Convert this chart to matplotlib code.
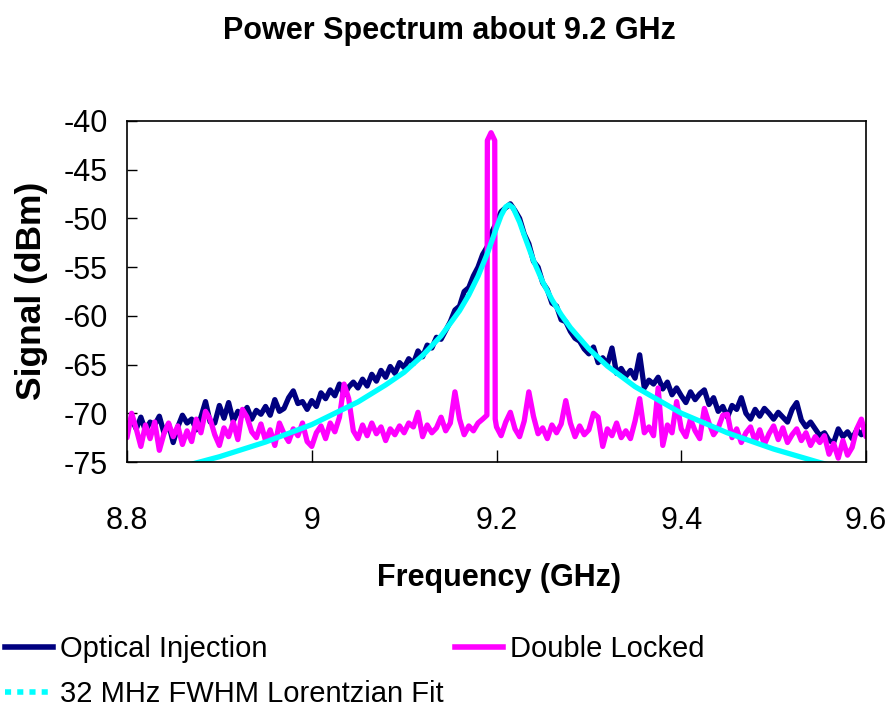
import numpy as np
import matplotlib.pyplot as plt
from matplotlib.lines import Line2D
from matplotlib.ticker import FuncFormatter

plt.rcParams['font.family'] = ['Liberation Sans', 'DejaVu Sans']
plt.rcParams['axes.unicode_minus'] = False

# analyzer sweep: 8.8 -> 9.6 GHz, one point every 5 MHz
freq = np.linspace(8.8, 9.6, 161)

# Optical Injection trace (dBm), one value per sweep point
inj_dbm = [
    -71.3, -70.6, -71.6, -70.4, -71.8, -70.9, -71.2, -70.3, -72.0, -71.1,
    -73.0, -71.4, -70.2, -71.0, -70.6, -71.7, -70.4, -68.8, -70.9, -71.0,
    -69.2, -70.5, -68.9, -70.8, -69.8, -70.2, -69.4, -70.6, -69.7, -70.1,
    -69.3, -70.2, -68.6, -69.8, -69.5, -68.4, -67.7, -69.0, -68.8, -69.6,
    -68.7, -69.3, -67.9, -68.5, -67.6, -68.2, -67.0, -68.1, -67.3, -66.8,
    -67.4, -66.5, -67.2, -66.0, -66.7, -65.6, -66.3, -65.2, -65.9, -64.8,
    -65.3, -64.4, -64.9, -63.6, -64.2, -63.0, -63.3, -62.2, -62.4, -61.5,
    -60.6, -59.4, -59.0, -57.5, -57.1, -55.9, -55.0, -53.7, -52.9, -51.4,
    -50.4, -49.3, -48.9, -48.5, -49.2, -50.0, -51.6, -52.6, -54.4, -55.0,
    -56.6, -57.3, -58.7, -59.0, -60.4, -60.6, -61.6, -62.3, -62.6, -63.4,
    -63.9, -63.2, -64.8, -64.3, -65.0, -63.3, -65.9, -65.4, -66.2, -65.6,
    -66.4, -64.0, -67.4, -66.6, -67.0, -66.3, -67.5, -66.8, -68.1, -67.4,
    -68.2, -68.9, -67.8, -68.6, -68.0, -67.6, -69.1, -68.4, -69.8, -69.3,
    -70.4, -69.2, -69.6, -68.4, -70.0, -70.6, -69.6, -70.3, -69.5, -70.0,
    -70.6, -69.9, -70.4, -70.9, -69.6, -68.9, -70.7, -71.4, -70.9, -71.6,
    -72.3, -72.0, -72.8, -73.0, -71.6, -72.4, -71.9, -72.6, -71.7, -72.2,
    -71.4,
]

# Double Locked trace: 8.800-9.185 GHz, the locked line, then 9.200-9.600 GHz
lock_left_dbm = [
    -72.5, -70.0, -71.6, -73.4, -71.2, -72.6, -70.9, -73.8, -72.1, -71.0,
    -72.4, -71.3, -73.2, -71.8, -72.9, -70.6, -72.0, -69.8, -70.6, -72.2,
    -73.3, -71.5, -72.4, -70.9, -72.7, -69.6, -70.4, -71.9, -72.5, -71.1,
    -72.8, -71.7, -73.3, -71.0, -72.1, -72.9, -71.6, -72.3, -71.0, -72.9,
    -73.4, -72.0, -71.3, -72.6, -71.0, -71.9, -70.4, -67.0, -68.5, -71.8,
    -72.6, -71.2, -72.3, -71.0, -72.1, -71.4, -72.8, -71.6, -72.2, -71.3,
    -72.0, -71.0, -71.4, -69.9, -72.4, -71.2, -72.0, -71.5, -70.4, -71.8,
    -71.0, -67.8, -70.6, -72.2, -71.3, -71.8, -71.0, -70.6,
]
line_freq = [9.1896, 9.1901, 9.1941, 9.1981, 9.1986]
line_dbm = [-70.2, -42.0, -41.2, -42.0, -70.6]
lock_right_dbm = [
    -71.4, -72.3, -70.9, -69.9, -71.6, -72.4, -70.8, -67.8, -70.3, -72.1,
    -71.5, -72.6, -71.2, -72.0, -71.1, -68.7, -71.0, -72.4, -71.3, -72.2,
    -71.7, -70.0, -70.4, -73.4, -71.6, -72.3, -71.0, -72.5, -71.8, -72.6,
    -70.8, -68.5, -72.0, -71.4, -72.3, -67.4, -73.3, -71.2, -72.0, -68.8,
    -71.6, -72.4, -70.6, -71.8, -72.6, -69.5, -71.0, -72.2, -71.5, -70.2,
    -70.1, -72.5, -71.6, -73.0, -72.0, -71.4, -72.9, -71.7, -73.2, -72.1,
    -71.3, -72.7, -71.5, -73.0, -72.2, -71.6, -72.8, -72.0, -73.3, -72.4,
    -73.0, -72.3, -74.2, -73.1, -74.6, -72.8, -74.3, -73.5, -71.6, -70.6,
    -72.4,
]

# 32 MHz FWHM Lorentzian fit
fit_freq = [8.80, 8.85, 8.90, 8.95, 9.00, 9.05, 9.08, 9.10, 9.12, 9.14,
            9.16, 9.17, 9.18, 9.19, 9.20, 9.205, 9.21, 9.2136, 9.218, 9.225,
            9.23, 9.24, 9.25, 9.26, 9.27, 9.28, 9.30, 9.32, 9.35, 9.40,
            9.45, 9.50, 9.55, 9.60]
fit_dbm = [-76.85, -75.73, -74.46, -72.95, -71.16, -68.84, -67.09, -65.79, -64.07, -62.06,
           -59.47, -57.86, -55.93, -53.62, -50.96, -49.70, -48.81, -48.60, -48.92, -50.38,
           -51.72, -54.31, -56.51, -58.34, -59.88, -61.21, -63.39, -65.15, -67.27, -69.99,
           -72.01, -73.67, -75.06, -76.27]

x_ticks = [8.8, 9.0, 9.2, 9.4, 9.6]
y_ticks = [-75, -70, -65, -60, -55, -50, -45, -40]

navy = '#000080'
magenta = '#FF00FF'
cyan = '#00FFFF'

lock_freq = np.concatenate([freq[freq < 9.1875], line_freq, freq[freq > 9.1975]])
lock_dbm = np.concatenate([lock_left_dbm, line_dbm, lock_right_dbm])

fig = plt.figure(figsize=(8.91, 7.07), dpi=100)
ax = fig.add_axes([127 / 891, 1 - 462 / 707, 739 / 891, 341 / 707])

style = dict(lw=3.8, solid_joinstyle='round', solid_capstyle='round')
ax.plot(freq, inj_dbm, color=navy, **style)
ax.plot(lock_freq, lock_dbm, color=magenta, **style)
ax.plot(fit_freq, fit_dbm, color=cyan, **style)

ax.set_xlim(8.8, 9.6)
ax.set_ylim(-75, -40)
ax.set_xticks(x_ticks)
ax.set_yticks(y_ticks)
ax.xaxis.set_major_formatter(FuncFormatter(lambda v, p: '%g' % v))
ax.tick_params(axis='x', direction='in', length=9, width=1, labelsize=22, pad=32)
ax.tick_params(axis='y', direction='in', length=7, width=1, labelsize=22, pad=14)
for s in ax.spines.values():
    s.set_linewidth(1.2)
    s.set_color('black')

fig.text(449 / 891, 1 - 31 / 707, 'Power Spectrum about 9.2 GHz',
         ha='center', va='center', fontsize=22, fontweight='bold')
fig.text(499 / 891, 1 - 578 / 707, 'Frequency (GHz)',
         ha='center', va='center', fontsize=22, fontweight='bold')
fig.text(32 / 891, 1 - 291 / 707, 'Signal (dBm)', rotation=90,
         ha='center', va='center', fontsize=25.5, fontweight='bold')

handles = [Line2D([], [], color=navy, lw=4),
           Line2D([], [], color=cyan, lw=4, linestyle=(0, (1.1, 1.1))),
           Line2D([], [], color=magenta, lw=4)]
labels = ['Optical Injection', '32 MHz FWHM Lorentzian Fit', 'Double Locked']
fig.legend(handles, labels, loc='upper left', bbox_to_anchor=(5 / 891, 1 - 635 / 707),
           ncol=2, frameon=False, fontsize=21, handlelength=1.65, handletextpad=0.24,
           columnspacing=0.38, labelspacing=0.6, borderaxespad=0, borderpad=0)

fig.savefig('out.png', dpi=100)
